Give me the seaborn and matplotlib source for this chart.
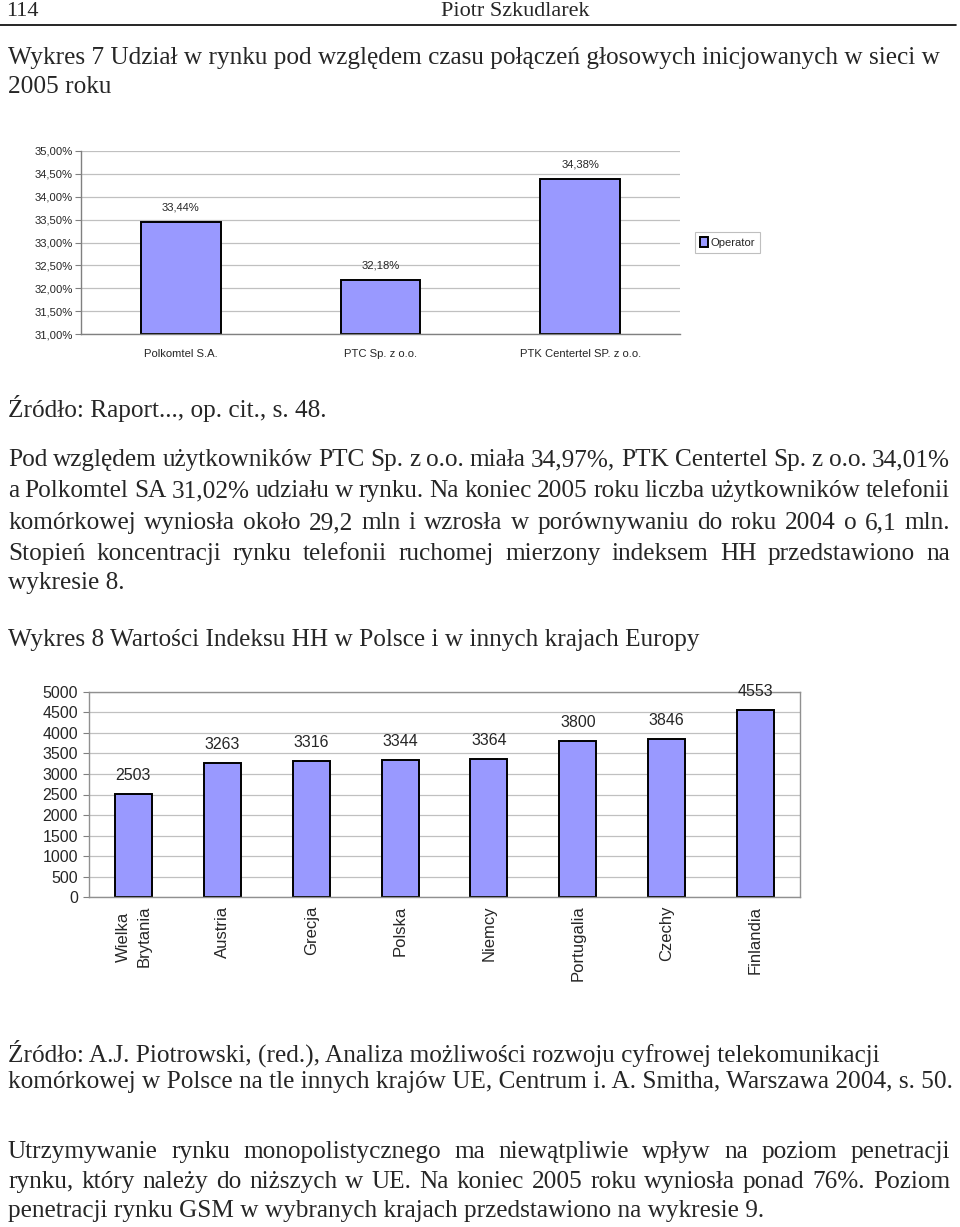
import matplotlib
matplotlib.use('Agg')
import matplotlib.pyplot as plt
import seaborn as sns

# ==========================================
# dane
# ==========================================
operatorzy = ['Polkomtel S.A.', 'PTC Sp. z o.o.', 'PTK Centertel SP. z o.o.']
udzial = [33.44, 32.18, 34.38]
udzial_etykiety = ['33,44%', '32,18%', '34,38%']
udzial_ticks = [31.0, 31.5, 32.0, 32.5, 33.0, 33.5, 34.0, 34.5, 35.0]
udzial_tick_labels = ['31,00%', '31,50%', '32,00%', '32,50%', '33,00%',
                      '33,50%', '34,00%', '34,50%', '35,00%']

kraje = ['Wielka\nBrytania', 'Austria', 'Grecja', 'Polska', 'Niemcy',
         'Portugalia', 'Czechy', 'Finlandia']
indeks_hh = [2503, 3263, 3316, 3344, 3364, 3800, 3846, 4553]
hh_ticks = [0, 500, 1000, 1500, 2000, 2500, 3000, 3500, 4000, 4500, 5000]

naglowek_strona = '114'
naglowek_autor = 'Piotr Szkudlarek'
tytul_7 = ['Wykres 7 Udział w rynku pod względem czasu połączeń głosowych inicjowanych w sieci w',
           '2005 roku']
zrodlo_7 = 'Źródło: Raport..., op. cit., s. 48.'
akapit_1 = ['Pod względem użytkowników PTC Sp. z o.o. miała 34,97%, PTK Centertel Sp. z o.o. 34,01%',
            'a Polkomtel SA 31,02% udziału w rynku. Na koniec 2005 roku liczba użytkowników telefonii',
            'komórkowej wyniosła około 29,2 mln i wzrosła w porównywaniu do roku 2004 o 6,1 mln.',
            'Stopień koncentracji rynku telefonii ruchomej mierzony indeksem HH przedstawiono na',
            'wykresie 8.']
tytul_8 = 'Wykres 8 Wartości Indeksu HH w Polsce i w innych krajach Europy'
zrodlo_8 = ['Źródło: A.J. Piotrowski, (red.), Analiza możliwości rozwoju cyfrowej telekomunikacji',
            'komórkowej w Polsce na tle innych krajów UE, Centrum i. A. Smitha, Warszawa 2004, s. 50.']
akapit_2 = ['Utrzymywanie rynku monopolistycznego ma niewątpliwie wpływ na poziom penetracji',
            'rynku, który należy do niższych w UE. Na koniec 2005 roku wyniosła ponad 76%. Poziom',
            'penetracji rynku GSM w wybranych krajach przedstawiono na wykresie 9.']

W, H = 960, 1227
SERIF = ['Liberation Serif', 'DejaVu Serif']
SANS = ['Liberation Sans', 'DejaVu Sans']
NARROW = ['Liberation Sans Narrow', 'Liberation Sans', 'DejaVu Sans']
KOLOR = '#9999ff'
SIATKA = '#c0c0c0'

sns.set_style('white')
plt.rcParams['font.family'] = SANS

fig = plt.figure(figsize=(W / 100, H / 100), dpi=100)
renderer = fig.canvas.get_renderer()


def fx(x):
    return x / W


def fy(y):
    return 1 - y / H


# --- tekst strony ---
# dobranie rozmiaru czcionki tak, by linia tytułu miała szerokość jak w oryginale
probny = fig.text(0, 0, tytul_7[0], fontsize=18, family=SERIF)
szer = probny.get_window_extent(renderer).width
probny.remove()
BODY = 18 * 930 / szer

# to samo dla wąskiej czcionki wykresu 7 (szerokość "35,00%" ok. 38 px)
probny = fig.text(0, 0, '35,00%', fontsize=10, family=NARROW)
szer = probny.get_window_extent(renderer).width
probny.remove()
SMALL = min(10.5, 10 * 38 / szer)


def linia(y, tekst, justuj=False, x0=8, x1=950):
    if not justuj:
        fig.text(fx(x0), fy(y), tekst, fontsize=BODY, family=SERIF, va='center')
        return
    slowa = tekst.split()
    obiekty = [fig.text(0, fy(y), s, fontsize=BODY, family=SERIF, va='center') for s in slowa]
    szer = [o.get_window_extent(renderer).width for o in obiekty]
    odstep = (x1 - x0 - sum(szer)) / (len(slowa) - 1)
    x = x0
    for o, w in zip(obiekty, szer):
        o.set_x(fx(x))
        x += w + odstep


fig.text(fx(6), fy(11), naglowek_strona, fontsize=16, family=SERIF, va='center')
fig.text(fx(515), fy(11), naglowek_autor, fontsize=16, family=SERIF, va='center', ha='center')
fig.add_artist(plt.Line2D([0, fx(956)], [fy(25), fy(25)], color='black', lw=1.2))

linia(58, tytul_7[0])
linia(87, tytul_7[1])
linia(409, zrodlo_7)
for y, t, j in zip([460, 491, 523, 554, 583], akapit_1, [True, True, True, True, False]):
    linia(y, t, j)
linia(640, tytul_8)
linia(1053, zrodlo_8[0])
linia(1082, zrodlo_8[1])
for y, t, j in zip([1152, 1182, 1211], akapit_2, [True, True, False]):
    linia(y, t, j)

# ==========================================
# Wykres 7
# ==========================================
ax1 = fig.add_axes([fx(81), fy(334), fx(680 - 81), (334 - 151) / H])
sns.barplot(x=operatorzy, y=udzial, ax=ax1, color=KOLOR, saturation=1,
            edgecolor='black', linewidth=1.4, width=0.4, label='Operator')
dol = udzial_ticks[0]
for p in ax1.patches:
    h = p.get_height()
    p.set_y(dol)
    p.set_height(h - dol)
ax1.set_ylim(udzial_ticks[0], udzial_ticks[-1])
ax1.set_xlim(-0.5, len(operatorzy) - 0.5)
ax1.set_yticks(udzial_ticks)
ax1.set_yticklabels(udzial_tick_labels, fontsize=SMALL, family=NARROW)
ax1.set_xticks(range(len(operatorzy)))
ax1.set_xticklabels(operatorzy, fontsize=SMALL, family=NARROW)
ax1.set_xticks([i - 0.5 for i in range(len(operatorzy) + 1)], minor=True)
ax1.tick_params(axis='x', which='major', length=0, pad=11)
ax1.tick_params(axis='x', which='minor', length=4, color='#808080', direction='out')
ax1.tick_params(axis='y', length=4, color='#808080', pad=2, direction='out', left=True)
ax1.grid(axis='y', color=SIATKA, lw=0.9)
ax1.set_axisbelow(True)
for s in ['top', 'right']:
    ax1.spines[s].set_visible(False)
for s in ['left', 'bottom']:
    ax1.spines[s].set_color('#808080')
    ax1.spines[s].set_linewidth(1)
ax1.set_xlabel('')
ax1.set_ylabel('')
ax1.bar_label(ax1.containers[0], labels=udzial_etykiety, padding=7,
              fontsize=SMALL, family=NARROW)
leg = ax1.legend(loc='center left', bbox_to_anchor=(1.025, 0.5),
                 prop={'family': NARROW, 'size': SMALL},
                 frameon=True, fancybox=False, edgecolor='#b0b0b0',
                 handlelength=0.7, handleheight=0.9, handletextpad=0.2,
                 borderpad=0.45, borderaxespad=0)
leg.get_frame().set_linewidth(0.8)

# ==========================================
# Wykres 8
# ==========================================
ax2 = fig.add_axes([fx(89), fy(897.3), fx(800 - 89), (897.3 - 691.7) / H])
sns.barplot(x=kraje, y=indeks_hh, ax=ax2, color=KOLOR, saturation=1,
            edgecolor='black', linewidth=1.4, width=0.415)
ax2.set_ylim(hh_ticks[0], hh_ticks[-1])
ax2.set_xlim(-0.5, len(kraje) - 0.5)
ax2.set_yticks(hh_ticks)
ax2.set_yticklabels([str(t) for t in hh_ticks], fontsize=11.5)
ax2.set_xticks(range(len(kraje)))
ax2.set_xticklabels(kraje, fontsize=12, rotation=90, ha='center', va='top',
                    multialignment='center', linespacing=1.5)
ax2.set_xticks([i - 0.5 for i in range(len(kraje) + 1)], minor=True)
ax2.tick_params(axis='x', which='major', length=0, pad=6)
ax2.tick_params(axis='x', which='minor', length=4, color='#808080', direction='out')
ax2.tick_params(axis='y', length=4, color='#808080', pad=4, direction='out', left=True)
ax2.grid(axis='y', color=SIATKA, lw=0.9)
ax2.set_axisbelow(True)
for s in ax2.spines.values():
    s.set_color('#909090')
    s.set_linewidth(1)
ax2.set_xlabel('')
ax2.set_ylabel('')
ax2.bar_label(ax2.containers[0], labels=[str(v) for v in indeks_hh], padding=8, fontsize=11.5)

plt.savefig('out.png', dpi=100)
